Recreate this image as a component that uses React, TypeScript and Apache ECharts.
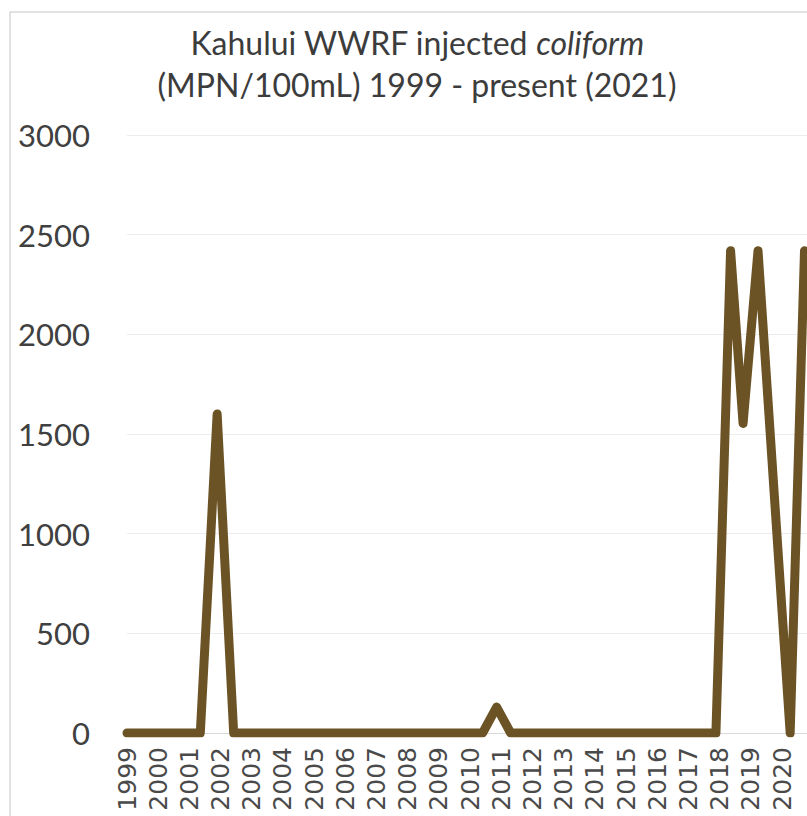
import React, { useEffect, useRef } from "react";
import * as echarts from "echarts";

// Sample dates (decimal years) and injected coliform (MPN/100mL)
const sampleYears = [1999, 2001.35, 2001.89, 2002.42, 2010.4, 2010.85, 2011.3, 2017.88, 2018.35, 2018.75, 2019.23, 2020.26, 2020.72];
const coliformValues = [0, 0, 1600, 0, 0, 130, 0, 0, 2419.6, 1553.1, 2419.6, 0, 2419.6];
const yearTicks = [1999, 2000, 2001, 2002, 2003, 2004, 2005, 2006, 2007, 2008, 2009, 2010, 2011, 2012, 2013, 2014, 2015, 2016, 2017, 2018, 2019, 2020];
const titleLine1 = "Kahului WWRF injected ";
const titleItalic = "coliform";
const titleLine2 = "(MPN/100mL) 1999 - present (2021)";

export default function App() {
  const ref = useRef<HTMLDivElement>(null);
  useEffect(() => {
    if (!ref.current) return;
    const chart = echarts.init(ref.current, undefined, { renderer: "svg" });
    const data = sampleYears.map((y, i) => [y, coliformValues[i]]);
    chart.setOption({
      animation: false,
      backgroundColor: "#ffffff",
      title: {
        text: `${titleLine1}{i|${titleItalic}}\n${titleLine2}`,
        left: 412,
        top: 16,
        textAlign: "center",
        textStyle: {
          fontFamily: "Lato",
          fontSize: 32,
          fontWeight: "normal",
          color: "#3c3c3c",
          lineHeight: 42,
          rich: {
            i: { fontFamily: "Lato", fontSize: 32, fontStyle: "italic", color: "#3c3c3c", lineHeight: 42 },
          },
        },
      },
      graphic: [
        {
          type: "rect",
          shape: { x: 10, y: 12, width: 1000, height: 1000 },
          style: { fill: "none", stroke: "#c4c4c4", lineWidth: 1 },
          silent: true,
        },
      ],
      grid: { left: 127, right: 0, top: 135, bottom: 83, containLabel: false },
      xAxis: {
        type: "value",
        min: yearTicks[0],
        max: 2020.8,
        interval: 1,
        axisLine: { show: true, lineStyle: { color: "#d9d9d9" } },
        axisTick: { show: false },
        splitLine: { show: false },
        axisLabel: {
          rotate: 90,
          margin: 14,
          showMaxLabel: false,
          fontFamily: "DejaVu Sans",
          fontSize: 25,
          color: "#4a4a4a",
          formatter: (v: number) => (yearTicks.includes(v) ? String(v) : ""),
        },
      },
      yAxis: {
        type: "value",
        min: 0,
        max: 3000,
        interval: 500,
        axisLine: { show: false },
        axisTick: { show: false },
        splitLine: { show: true, lineStyle: { color: "#ececec", width: 1 } },
        axisLabel: {
          margin: 37,
          fontFamily: "Lato",
          fontSize: 31,
          color: "#404040",
          formatter: (v: number) => String(v),
        },
      },
      series: [
        {
          type: "line",
          data,
          showSymbol: false,
          symbol: "none",
          lineStyle: { color: "#6b5325", width: 9, cap: "round", join: "round" },
        },
      ],
    });
    return () => chart.dispose();
  }, []);
  return <div ref={ref} style={{ width: 807, height: 816, position: "absolute", left: 0, top: 0 }} />;
}
